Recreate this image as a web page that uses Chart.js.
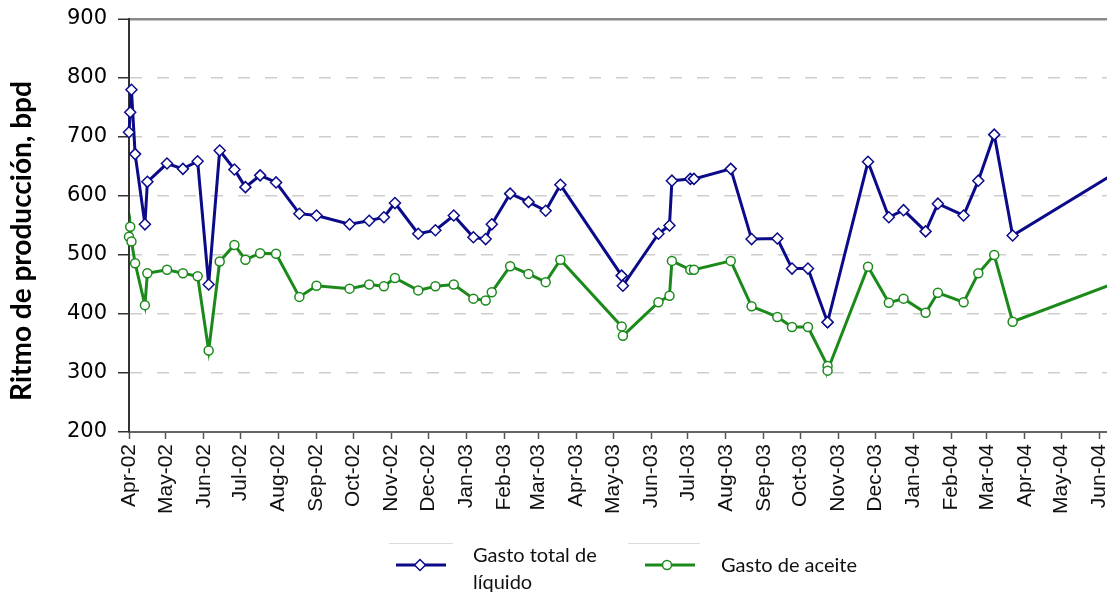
<!DOCTYPE html>
<html><head><meta charset="utf-8">
<script src="https://cdn.jsdelivr.net/npm/chart.js@4.4.1/dist/chart.umd.min.js"></script>
<style>
html,body{margin:0;padding:0;background:#fff;}
#wrap{position:relative;width:1107px;height:597px;overflow:hidden;background:#fff;}
#c{position:absolute;left:0;top:0;}
.leg{position:absolute;font-family:Lato,'Noto Sans',sans-serif;font-size:20px;color:#111;line-height:27px;white-space:nowrap;}
.rule{position:absolute;height:1px;background:#dcdcdc;}
</style></head><body>
<div id="wrap">
<canvas id="c" width="1107" height="597"></canvas>
<div class="rule" style="left:389px;top:543px;width:64px"></div>
<div class="rule" style="left:628px;top:543px;width:72px"></div>
<svg style="position:absolute;left:390px;top:555px" width="64" height="20">
 <line x1="6" y1="10" x2="56" y2="10" stroke="#0b0b8a" stroke-width="3"/>
 <polygon points="30,4.5 35.5,10 30,15.5 24.5,10" fill="#fff" stroke="#0b0b8a" stroke-width="1.5"/>
</svg>
<svg style="position:absolute;left:640px;top:555px" width="64" height="20">
 <line x1="5" y1="10" x2="55" y2="10" stroke="#1b8a1b" stroke-width="3"/>
 <circle cx="27" cy="10" r="4.5" fill="#fff" stroke="#1b8a1b" stroke-width="1.5"/>
</svg>
<div class="leg" id="leg1" style="left:473px;top:541px;"></div>
<div class="leg" id="leg2" style="left:721px;top:551px;"></div>
</div>
<script>
// ---- data ----
const seriesNames = ['Gasto total de\nlíquido', 'Gasto de aceite'];
const yTitle = 'Ritmo de producción, bpd';
const dates = [
 '2002-04-01','2002-04-02','2002-04-03','2002-04-06','2002-04-14','2002-04-16',
 '2002-05-02','2002-05-15','2002-05-27','2002-06-05','2002-06-14','2002-06-26',
 '2002-07-05','2002-07-17','2002-07-30','2002-08-18','2002-09-01','2002-09-28',
 '2002-10-14','2002-10-26','2002-11-04','2002-11-23','2002-12-07','2002-12-22',
 '2003-01-07','2003-01-17','2003-01-22','2003-02-06','2003-02-21','2003-03-07',
 '2003-03-19','2003-05-08','2003-05-09','2003-06-07','2003-06-16','2003-06-18',
 '2003-07-03','2003-07-06','2003-08-05','2003-08-22','2003-09-12','2003-09-24',
 '2003-10-07','2003-10-23','2003-10-23','2003-11-25','2003-12-12','2003-12-24',
 '2004-01-11','2004-01-21','2004-02-11','2004-02-23','2004-03-07','2004-03-22',
 '2004-07-01'
];
const liquidTotal = [
 708,742,780,671,552,624,
 655,646,659,450,677,645,
 615,635,623,570,567,552,
 558,564,588,536,542,567,
 530,527,552,604,590,575,
 619,465,448,536,550,626,
 629,629,646,527,528,477,
 477,386,386,658,564,576,
 540,587,567,626,704,533,
 661
];
const oilRate = [
 531,548,523,486,415,469,
 475,469,464,338,489,517,
 492,503,502,429,448,443,
 450,447,461,440,447,450,
 426,423,437,481,468,454,
 492,379,363,420,431,490,
 475,475,490,413,395,378,
 378,312,304,480,419,426,
 402,436,420,469,500,387,
 466
];
const tickDates = ['2002-04-01','2002-05-01','2002-06-01','2002-07-01','2002-08-01','2002-09-01',
 '2002-10-01','2002-11-01','2002-12-01','2003-01-01','2003-02-01','2003-03-01','2003-04-01',
 '2003-05-01','2003-06-01','2003-07-01','2003-08-01','2003-09-01','2003-10-01','2003-11-01',
 '2003-12-01','2004-01-01','2004-02-01','2004-03-01','2004-04-01','2004-05-01','2004-06-01'];
const tickLabels = ['Apr-02','May-02','Jun-02','Jul-02','Aug-02','Sep-02','Oct-02','Nov-02','Dec-02',
 'Jan-03','Feb-03','Mar-03','Apr-03','May-03','Jun-03','Jul-03','Aug-03','Sep-03','Oct-03','Nov-03',
 'Dec-03','Jan-04','Feb-04','Mar-04','Apr-04','May-04','Jun-04'];
const xEnd = '2004-06-07';
const yMin = 200, yMax = 900, yStep = 100;

// ---- helpers ----
const origin = Date.UTC(2002,3,1);
function dayOf(s){const [y,m,d]=s.split('-').map(Number);return Math.round((Date.UTC(y,m-1,d)-origin)/86400000);}
const tickDays = tickDates.map(dayOf);

document.getElementById('leg1').innerHTML = seriesNames[0].replace('\n','<br>');
document.getElementById('leg2').textContent = seriesNames[1];

const yTitlePlugin = {
 id:'ytitle',
 afterDraw(chart){
  const c = chart.ctx; c.save();
  c.translate(22, 241); c.rotate(-Math.PI/2);
  c.font = 'bold 28px Lato, "Noto Sans", sans-serif';
  c.fillStyle = '#000'; c.textAlign = 'center'; c.textBaseline = 'middle';
  c.fillText(yTitle, 0, 0); c.restore();
 }
};

new Chart(document.getElementById('c'), {
 type:'line',
 data:{
  datasets:[
   {label:seriesNames[0], data:dates.map((d,i)=>({x:dayOf(d),y:liquidTotal[i]})),
    borderColor:'#0b0b8a', borderWidth:3, pointStyle:'rectRot', pointRadius:5.5,
    pointBackgroundColor:'#fff', pointBorderColor:'#0b0b8a', pointBorderWidth:1.5, tension:0, clip:false},
   {label:seriesNames[1], data:dates.map((d,i)=>({x:dayOf(d),y:oilRate[i]})),
    borderColor:'#1b8a1b', borderWidth:3, pointStyle:'circle', pointRadius:4.5,
    pointBackgroundColor:'#fff', pointBorderColor:'#1b8a1b', pointBorderWidth:1.5, tension:0, clip:false}
  ]
 },
 options:{
  responsive:false, animation:false, devicePixelRatio:1,
  layout:{autoPadding:false, padding:{left:0,right:0,top:19,bottom:0}},
  plugins:{legend:{display:false}, tooltip:{enabled:false}},
  scales:{
   x:{type:'linear', min:0, max:dayOf(xEnd),
    afterBuildTicks(s){ s.ticks = tickDays.map(v=>({value:v})); },
    afterFit(s){ s.height = 165; s.paddingLeft = 0; s.paddingRight = 0; },
    ticks:{autoSkip:false, minRotation:90, maxRotation:90, padding:5,
     font:{family:'"Liberation Sans", Arial, sans-serif', size:21}, color:'#111',
     callback:(v)=>{const i = tickDays.indexOf(v); return i>=0 ? tickLabels[i] : '';}},
    grid:{drawOnChartArea:false, drawTicks:true, tickLength:7, tickColor:'#555', tickWidth:1.5},
    border:{display:true, color:'#666', width:2}
   },
   y:{min:yMin, max:yMax,
    afterFit(s){ s.width = 129; s.paddingTop = 0; s.paddingBottom = 0; },
    ticks:{stepSize:yStep, padding:11, font:{family:'"DejaVu Sans", sans-serif', size:21}, color:'#000'},
    grid:{drawOnChartArea:true, drawTicks:true, tickLength:11, tickColor:'#333', tickWidth:1.5,
     tickBorderDash:[],
     color:(ctx)=> (ctx.tick && ctx.tick.value===yMax) ? '#8a8a8a' : '#cdcdcd',
     lineWidth:(ctx)=> (ctx.tick && ctx.tick.value===yMax) ? 2.5 : 1.5},
    border:{display:true, color:'#333', width:2,
     dash:(ctx)=> (ctx.tick && ctx.tick.value!==yMax && ctx.tick.value!==yMin) ? [12,15] : []}
   }
  }
 },
 plugins:[yTitlePlugin]
});
</script>
</body></html>
